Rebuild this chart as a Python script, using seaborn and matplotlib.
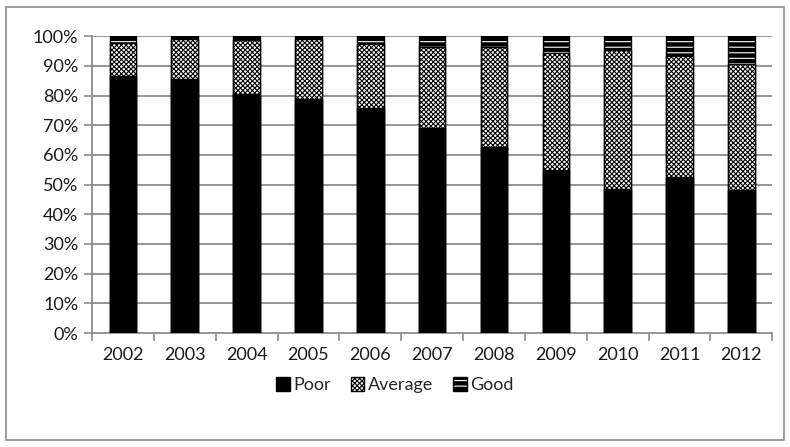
import matplotlib
matplotlib.use("Agg")
import matplotlib.pyplot as plt
import matplotlib.patches as mpatches
from matplotlib.ticker import FixedLocator
import numpy as np
import pandas as pd
import seaborn as sns

years = ["2002", "2003", "2004", "2005", "2006", "2007", "2008", "2009", "2010", "2011", "2012"]
poor = [86.5, 85.5, 80.4, 78.7, 75.9, 69.0, 62.7, 54.9, 48.5, 52.4, 48.1]
average = [11.1, 13.5, 18.3, 20.3, 21.6, 27.4, 33.5, 39.3, 46.8, 40.9, 42.7]
good = [2.4, 1.0, 1.3, 1.0, 2.5, 3.6, 3.8, 5.8, 4.7, 6.7, 9.2]
y_ticks = [0, 10, 20, 30, 40, 50, 60, 70, 80, 90, 100]

df = pd.DataFrame({"year": years, "Poor": poor, "Average": average, "Good": good})
df["top_avg"] = df["Poor"] + df["Average"]
df["top_good"] = df["top_avg"] + df["Good"]

sns.set_theme(style="white")
plt.rcParams["font.family"] = ["Lato", "DejaVu Sans"]
plt.rcParams["hatch.linewidth"] = 0.8

fig = plt.figure(figsize=(7.9, 4.47), dpi=100)
ax = fig.add_axes([0.1165, 0.255, 0.861, 0.664])

grid_col = "#8c8c8c"
text_col = "#1a1a1a"
fs = 13
bw = 0.43
avg_hatch = "xxxxxxx"

# Good layer: black fill with white dashes, then outline
sns.barplot(data=df, x="year", y="top_good", color="black", width=bw,
            saturation=1, ax=ax, zorder=2, edgecolor="white", linewidth=0,
            hatch="---")
sns.barplot(data=df, x="year", y="top_good", width=bw, saturation=1, ax=ax,
            zorder=3, fill=False, edgecolor="black", linewidth=1.0)
# Average layer: white with small checker pattern
sns.barplot(data=df, x="year", y="top_avg", color="white", width=bw,
            saturation=1, ax=ax, zorder=4, edgecolor="black", linewidth=1.0,
            hatch=avg_hatch)
# Poor layer: solid black
sns.barplot(data=df, x="year", y="Poor", color="black", width=bw,
            saturation=1, ax=ax, zorder=5, edgecolor="black", linewidth=1.0)

ax.set_xlim(-0.5, len(years) - 0.5)
ax.set_ylim(0, 100)
ax.set_xlabel("")
ax.set_ylabel("")
ax.set_yticks(y_ticks)
ax.set_yticklabels([f"{v}%" for v in y_ticks], fontsize=fs, color=text_col)
ax.tick_params(axis="x", which="major", length=0, pad=10, labelsize=fs,
               labelcolor=text_col)
ax.xaxis.set_minor_locator(FixedLocator(np.arange(-0.5, len(years), 1.0)))
ax.tick_params(axis="x", which="minor", bottom=True, length=6, width=1.2,
               color=grid_col)
ax.tick_params(axis="y", left=True, length=6, width=1.2, color=grid_col, pad=4)

for v in y_ticks[1:]:
    ax.axhline(v, color=grid_col, lw=1.3, zorder=1)

for side in ["top", "right"]:
    ax.spines[side].set_visible(False)
for side in ["left", "bottom"]:
    ax.spines[side].set_color(grid_col)
    ax.spines[side].set_linewidth(1.3)

# Legend
h_poor = mpatches.Patch(facecolor="black", edgecolor="black", label="Poor")
h_avg = mpatches.Patch(facecolor="white", edgecolor="black", hatch=avg_hatch,
                       label="Average")
h_good_fill = mpatches.Patch(facecolor="black", edgecolor="white", hatch="---",
                             linewidth=0)
h_good_edge = mpatches.Patch(facecolor="none", edgecolor="black", linewidth=1.0)
fig.legend(handles=[h_poor, h_avg, (h_good_fill, h_good_edge)],
           labels=["Poor", "Average", "Good"], loc="center",
           bbox_to_anchor=(0.5, 0.138), ncol=3, frameon=False,
           fontsize=fs, handlelength=0.75, handleheight=0.75,
           handletextpad=0.2, columnspacing=1.1)

# Chart frame
fig.patches.append(mpatches.Rectangle((0.008, 0.015), 0.984, 0.97,
                                      transform=fig.transFigure, fill=False,
                                      edgecolor="#8c8c8c", linewidth=1.2))

fig.savefig("out.png", dpi=100, facecolor="white")
